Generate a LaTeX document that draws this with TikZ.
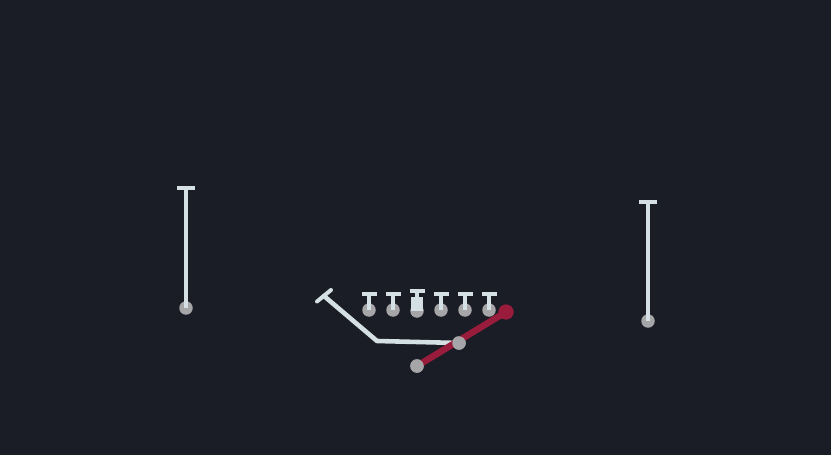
\documentclass[tikz,border=0pt]{standalone}
\usetikzlibrary{calc}
\begin{document}
\begin{tikzpicture}[x=1pt,y=-1pt,
  route/.style={draw=routec,line width=4.6pt,line cap=round,line join=round},
  tbar/.style={draw=routec,line width=4pt},
  dot/.style={circle,fill=dotc,inner sep=0pt,minimum size=13.5pt},
  reddot/.style={circle,fill=redc,inner sep=0pt,minimum size=15pt},
  pt/.style={inner sep=0pt,minimum size=0pt}]
\definecolor{bgc}{HTML}{1A1D25}
\definecolor{routec}{HTML}{D5E0E4}
\definecolor{dotc}{HTML}{A6A6A8}
\definecolor{redc}{HTML}{9A1C3C}
\useasboundingbox (0,0) rectangle (831,455);
\fill[bgc] (0,0) rectangle (831,455);
% left receiver
\coordinate (lwT) at (186,188);
\node[dot] (lw) at (186,308) {};
\draw[route,line cap=butt] (lwT) -- (lw.center);
\draw[tbar,line width=4.6pt] ($(lwT)+(-9,0)$) -- ($(lwT)+(9,0)$);
% right receiver
\coordinate (rwT) at (648,202);
\node[dot] (rw) at (648,321) {};
\draw[route,line cap=butt] (rwT) -- (rw.center);
\draw[tbar,line width=4.6pt] ($(rwT)+(-9,0)$) -- ($(rwT)+(9,0)$);
% linemen
\foreach \i/\x in {1/369,2/393,4/441,5/465,6/489}{
  \node[dot] (ol\i) at (\x,310) {};
  \coordinate (olT\i) at (\x,294);
  \draw[routec,line width=4.2pt] (olT\i) -- (ol\i.center);
  \draw[tbar] ($(olT\i)+(-7.5,0)$) -- ($(olT\i)+(7.5,0)$);
}
% center
\node[dot] (ol3) at (417,311) {};
\coordinate (olT3) at (417,291);
\fill[routec] (411,297) rectangle (423,311);
\draw[routec,line width=4.2pt] (olT3) -- (417,298);
\draw[tbar] ($(olT3)+(-7.5,0)$) -- ($(olT3)+(7.5,0)$);
% running back route
\node[pt] (rbT) at (324,296) {};
\node[pt] (rbC) at (377,341) {};
\node[dot] (rb) at (459,343) {};
\draw[route] (rbT.center) -- (rbC.center) -- (rb.center);
\draw[tbar,line cap=round] (317,301.5) -- (331,290);
% red route
\node[dot] (qb) at (417,366) {};
\node[reddot] (rend) at (506,312) {};
\draw[draw=redc,line width=6.5pt,line cap=round] (qb.center) -- (rend.center);
\node[reddot] at (rend) {};
\node[dot] at (qb) {};
\node[dot] at (rb) {};
\end{tikzpicture}
\end{document}
